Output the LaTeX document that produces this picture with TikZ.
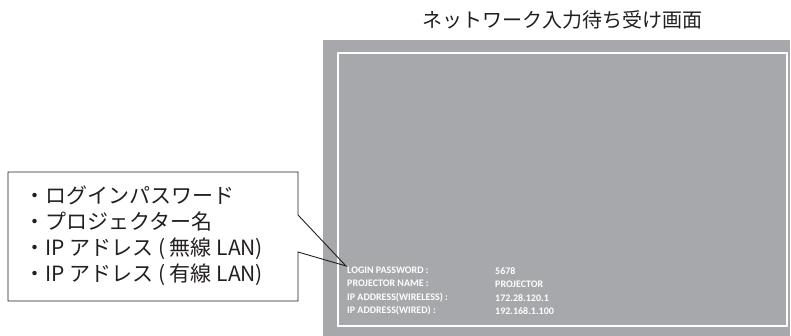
\documentclass[tikz,border=0pt]{standalone}
\usepackage{fontspec}
\newfontfamily\jpfont{Noto Sans CJK JP}
\newfontfamily\scrfont{Carlito}
\definecolor{screengray}{HTML}{A7A8AB}
\definecolor{inkdark}{HTML}{231F20}
\tikzset{
  screenbox/.style={fill=screengray, draw=none, inner sep=0pt, anchor=north west},
  frameline/.style={draw=white, line width=1.8pt},
  calloutline/.style={draw=inkdark, line width=0.9pt, line join=miter},
  jptext/.style={font=\jpfont\fontsize{21}{26}\selectfont, text=inkdark, inner sep=0pt, align=left},
  titletext/.style={font=\jpfont\fontsize{20}{24}\selectfont, text=inkdark, inner sep=0pt},
  scrtext/.style={font=\scrfont\bfseries\fontsize{10}{13.2}\selectfont, text=white, inner sep=0pt, align=left, anchor=west}
}
\begin{document}
\begin{tikzpicture}[x=1pt,y=-1pt]
\useasboundingbox (0,0) rectangle (791,336);
\node[titletext] (title) at (562,20) {ネットワーク入力待ち受け画面};
\node[screenbox, minimum width=467pt, minimum height=296pt] (screen) at (323,40) {};
\draw[frameline] (338,53) rectangle (787,326);
\coordinate (tip) at (346,266);
\draw[calloutline] (8,172) -- (298,172) -- (298,215) -- (tip) -- (298,252) -- (298,301) -- (8,301) -- cycle;
\node[jptext, anchor=west] (list) at (24,236) {・ログインパスワード\\・プロジェクター名\\・IP アドレス ( 無線 LAN)\\・IP アドレス ( 有線 LAN)};
\node[scrtext] (labels) at (347,291) {LOGIN PASSWORD :\\PROJECTOR NAME :\\IP ADDRESS(WIRELESS) :\\IP ADDRESS(WIRED) :};
\node[scrtext] (values) at (495,291) {5678\\PROJECTOR\\172.28.120.1\\192.168.1.100};
\end{tikzpicture}
\end{document}
